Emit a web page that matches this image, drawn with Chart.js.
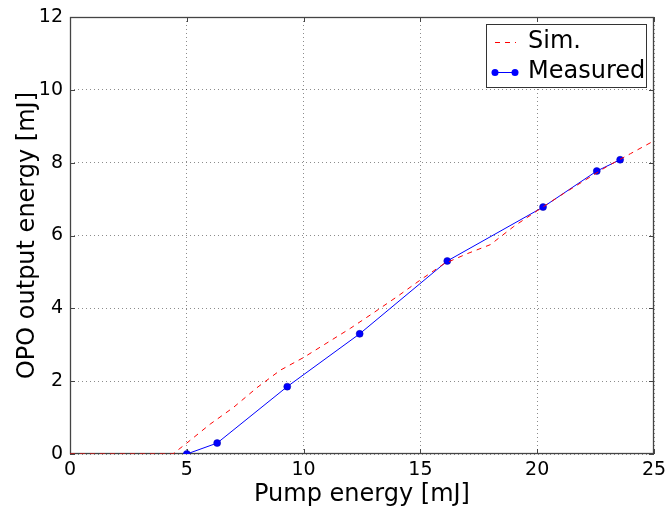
<!DOCTYPE html>
<html>
<head>
<meta charset="utf-8">
<script src="https://cdn.jsdelivr.net/npm/chart.js@4.4.0/dist/chart.umd.min.js"></script>
<style>
  html, body { margin: 0; padding: 0; background: #fff; }
  #wrap { width: 667px; height: 510px; }
</style>
</head>
<body>
<div id="wrap"><canvas id="opoChart" width="667" height="510"></canvas></div>
<script>
// Simulated curve (pump energy, output energy)
const simX = [0, 1, 2, 3, 4, 4.4, 5, 6, 7, 8, 9, 10, 11, 12, 13, 14, 15, 16, 17, 18, 19, 20, 21, 22, 23, 24, 25];
const simY = [0, 0, 0, 0, 0, 0, 0.3, 0.82, 1.28, 1.82, 2.3, 2.65, 3.05, 3.45, 3.88, 4.32, 4.78, 5.22, 5.5, 5.75, 6.25, 6.68, 7.1, 7.5, 7.9, 8.25, 8.6];

// Measured points
const measX = [5.0, 6.3, 9.3, 12.4, 16.15, 20.25, 22.55, 23.55];
const measY = [0.0, 0.3, 1.85, 3.3, 5.3, 6.78, 7.77, 8.08];

const xTicks = [0, 5, 10, 15, 20, 25];
const yTicks = [0, 2, 4, 6, 8, 10, 12];

const toPoints = (xs, ys) => xs.map((x, i) => ({ x: x, y: ys[i] }));

// frame + inward ticks under the data, legend box on top (matplotlib look)
const framePlugin = {
    id: "frame",
    beforeDatasetsDraw(chart) {
        const { ctx, chartArea: a, scales } = chart;
        ctx.save();
        ctx.strokeStyle = "#444";
        ctx.lineWidth = 1.3;
        ctx.strokeRect(a.left + 0.5, a.top + 0.5, a.right - a.left - 1, a.bottom - a.top - 1);
        ctx.lineWidth = 1;
        ctx.beginPath();
        xTicks.forEach((v) => {
            const px = Math.round(scales.x.getPixelForValue(v)) + 0.5;
            ctx.moveTo(px, a.bottom); ctx.lineTo(px, a.bottom - 5);
            ctx.moveTo(px, a.top); ctx.lineTo(px, a.top + 5);
        });
        yTicks.forEach((v) => {
            const py = Math.round(scales.y.getPixelForValue(v)) + 0.5;
            ctx.moveTo(a.left, py); ctx.lineTo(a.left + 5, py);
            ctx.moveTo(a.right, py); ctx.lineTo(a.right - 5, py);
        });
        ctx.stroke();
        ctx.restore();
    },
    afterDraw(chart) {
        const { ctx } = chart;
        ctx.save();
        const bx = 486.5, by = 24.5, bw = 160, bh = 63;
        ctx.fillStyle = "#fff";
        ctx.fillRect(bx, by, bw, bh);
        ctx.strokeStyle = "#333";
        ctx.lineWidth = 1;
        ctx.strokeRect(bx, by, bw, bh);
        ctx.font = "24px 'DejaVu Sans'";
        ctx.textBaseline = "middle";
        ctx.fillStyle = "#000";
        const ds = chart.data.datasets;
        // Sim.
        ctx.strokeStyle = ds[0].borderColor;
        ctx.setLineDash([5, 5]);
        ctx.beginPath();
        ctx.moveTo(495, 42.5); ctx.lineTo(516, 42.5);
        ctx.stroke();
        ctx.setLineDash([]);
        ctx.fillText(ds[0].label, 528, 42);
        // Measured
        ctx.strokeStyle = ds[1].borderColor;
        ctx.beginPath();
        ctx.moveTo(495, 72.5); ctx.lineTo(515, 72.5);
        ctx.stroke();
        ctx.fillStyle = ds[1].pointBackgroundColor;
        [495, 515].forEach((px) => {
            ctx.beginPath();
            ctx.arc(px, 72.5, 3.5, 0, Math.PI * 2);
            ctx.fill();
        });
        ctx.fillStyle = "#000";
        ctx.fillText(ds[1].label, 528, 72);
        ctx.restore();
    },
};

const ctx = document.getElementById("opoChart").getContext("2d");
const opoChart = new Chart(ctx, {
    type: "scatter",
    data: {
        datasets: [
            {
                label: "Sim.",
                data: toPoints(simX, simY),
                showLine: true,
                borderColor: "#ff0000",
                borderWidth: 1,
                borderDash: [5, 5],
                pointRadius: 0,
                tension: 0,
                clip: 0,
            },
            {
                label: "Measured",
                data: toPoints(measX, measY),
                showLine: true,
                borderColor: "#0000ff",
                borderWidth: 1,
                pointRadius: 3.5,
                pointBackgroundColor: "#0000ff",
                pointBorderColor: "#0000aa",
                pointBorderWidth: 0.5,
                tension: 0,
                clip: 0,
            },
        ],
    },
    options: {
        responsive: false,
        animation: false,
        layout: { padding: { top: 17, right: 13, left: 0, bottom: 0 } },
        plugins: {
            legend: { display: false },
            tooltip: { enabled: false },
        },
        scales: {
            x: {
                type: "linear",
                min: 0,
                max: 25,
                afterBuildTicks: (s) => { s.ticks = xTicks.map((v) => ({ value: v })); },
                afterFit: (s) => { s.height = 56; s.paddingLeft = 0; s.paddingRight = 0; },
                ticks: { color: "#000", padding: 5, font: { family: "DejaVu Sans", size: 19 } },
                grid: { color: "rgba(0,0,0,0.45)", drawTicks: false },
                border: { display: false, dash: [1, 3] },
                title: {
                    display: true,
                    text: "Pump energy [mJ]",
                    color: "#000",
                    font: { family: "DejaVu Sans", size: 24 },
                    padding: { top: 0, bottom: 1 },
                },
            },
            y: {
                type: "linear",
                min: 0,
                max: 12,
                afterBuildTicks: (s) => { s.ticks = yTicks.map((v) => ({ value: v })); },
                afterFit: (s) => { s.width = 70; s.paddingTop = 0; s.paddingBottom = 0; },
                ticks: { color: "#000", padding: 7, font: { family: "DejaVu Sans", size: 19 } },
                grid: { color: "rgba(0,0,0,0.45)", drawTicks: false },
                border: { display: false, dash: [1, 3] },
                title: {
                    display: true,
                    text: "OPO output energy [mJ]",
                    color: "#000",
                    font: { family: "DejaVu Sans", size: 24 },
                    padding: { top: 13, bottom: 0 },
                },
            },
        },
    },
    plugins: [framePlugin],
});
</script>
</body>
</html>
